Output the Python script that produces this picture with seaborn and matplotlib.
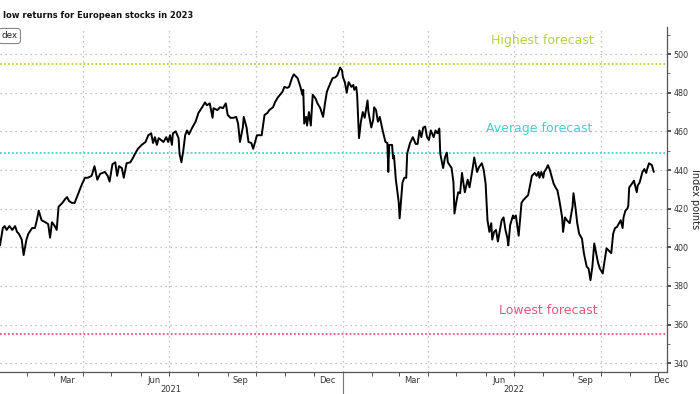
import numpy as np
import pandas as pd
import matplotlib
matplotlib.use("Agg")
import matplotlib.pyplot as plt
import matplotlib.dates as mdates
import matplotlib.transforms as mtransforms
from matplotlib.ticker import MultipleLocator, NullFormatter
import seaborn as sns

# ---------------- data ----------------
title_text = "low returns for European stocks in 2023"
legend_text = "dex"
y_label = "Index points"
start_date = "2021-01-01"

# days since 2021-01-01
days = [2,5,7,9,12,15,18,20,22,25,27,30,32,36,39,41,43,46,50,53,55,57,60,62,64,68,71,73,75,78,81,85,89,92,95,99,102,105,108,113,116,118,121,124,126,128,131,133,136,140,143,145,148,152,156,159,162,164,166,168,170,175,178,180,182,184,185,188,191,192,194,196,198,200,202,205,209,212,216,219,221,224,227,228,232,235,238,241,243,246,249,252,254,256,259,260,263,265,268,270,272,274,279,282,285,287,291,293,296,301,303,306,308,311,313,317,320,322,323,324,326,327,329,331,333,336,338,341,344,346,348,350,354,357,359,362,364,365,367,369,371,374,376,377,379,380,382,384,386,388,391,392,395,397,398,400,402,404,407,410,412,413,414,417,418,419,421,424,425,427,428,430,432,433,436,439,442,444,446,448,450,452,454,456,458,461,463,465,467,468,471,473,475,476,480,482,483,485,487,489,491,492,494,497,499,502,504,507,509,512,514,516,518,520,522,523,525,527,529,533,535,537,539,540,542,545,546,548,551,554,556,559,561,563,565,568,570,572,573,575,577,578,580,582,584,588,590,592,594,595,597,598,600,602,605,608,609,611,613,615,618,620,623,625,627,629,631,633,635,637,640,641,644,646,649,651,653,655,659,661,662,664,666,667,668,671,673,676,677,679,682,684,686,687,689,692,694]

index_points = [401,410,411,409,411,409,411,408,407,404,396,404,407,410,410,414,419,414,413,412,405,413,411,409,421,423,425,426,424,423,423,428,433,436,436,437,442,435,438,439,437,434,443,444,437,442,441,436,443.5,444,446.5,448.5,451,453,454.5,458,459,454,457,453,456.5,454.5,457,454.5,458,453,459,460,456.5,448.5,444,450,458,460.5,458.5,461.5,465,469.5,472.5,475,473.5,474.5,467,472,471,472.5,472,474.5,468.5,467,467,467.5,464,454.5,462,467.5,462,454.5,454,451,454.5,458,458,468.5,469.5,471,472.5,475,477.5,480.5,483,482.5,483,487.5,489.5,487.5,483,479,481.5,464,467.5,463,470,463,479,477,474.5,472,467.5,474.5,480.5,483,487.5,488,489,493,491.5,488,485.5,480,485.5,483,484,481.5,483,479,456.5,465,470,467,476,470,462,466,472.5,471,465,467.5,460.5,454.5,454,439,453,453,446,447.5,435,423.5,415,427,433.5,436,436,448.5,454,457,453.5,453.5,460.5,457,462,462.5,457,455.5,460.5,457,460.5,459,461.5,448.5,441,446.5,449,444,441,433.5,417.5,423.5,428.5,428,438.5,435,428.5,435,431,440,446.5,439,441.5,443.5,440,433,414,408,412.5,404,408,409,403,414,415.5,409,405,401,411.5,416.5,415,416.5,406,423,424.5,426,427,432,437,438.5,437,439,436,439,436,439,440.5,442.5,440,433,431,429.5,424.5,421.5,415.5,408,415.5,414,412.5,421,428,421,412.5,407,404.5,397,390,389,383,390,402,397,392,389,386.5,390,399.5,398.5,397,407,410,410.5,414,410,415.5,419,420,421.5,431,433,434.5,428.5,432,433.5,439,440.5,438.5,440.5,443.5,442.5,439]

forecast_names = ["Highest forecast", "Average forecast", "Lowest forecast"]
forecast_values = [495, 449, 355]
forecast_label_values = [507, 461.5, 367.5]
forecast_label_dates = ["2022-07-31", "2022-07-28", "2022-08-06"]
forecast_colors = ["#b4d147", "#4ccbd0", "#e5577c"]

y_ticks = [340, 360, 380, 400, 420, 440, 460, 480, 500]
month_labels = ["Mar", "Jun", "Sep", "Dec", "Mar", "Jun", "Sep", "Dec"]
month_label_dates = ["2021-03-15", "2021-06-15", "2021-09-15", "2021-12-15",
                     "2022-03-15", "2022-06-15", "2022-09-15", "2022-12-04"]
year_labels = ["2021", "2022"]
year_label_dates = ["2021-07-03", "2022-07-01"]

# ---------------- build ----------------
n = min(len(days), len(index_points))
dates = pd.Timestamp(start_date) + pd.to_timedelta(days[:n], unit="D")
df = pd.DataFrame({"date": dates, "value": index_points[:n]})

sns.set_theme(style="white")
plt.rcParams["font.family"] = ["DejaVu Sans"]

fig = plt.figure(figsize=(7.0, 3.94), dpi=100)
ax = fig.add_axes([0.0, 1 - 372 / 394, 667 / 700, (372 - 27) / 394])

xmin = pd.Timestamp(start_date) + pd.Timedelta(days=2)
xmax = pd.Timestamp(start_date) + pd.Timedelta(days=708)
ax.set_xlim(xmin, xmax)
ax.set_ylim(335.5, 514)

# grid
grid_kw = dict(color="#b0b0b0", linestyle=(0, (1, 3)), linewidth=0.9, zorder=0)
for v in y_ticks:
    ax.axhline(v, **grid_kw)
quarter_starts = pd.date_range("2021-04-01", "2022-10-01", freq="QS")
for d in quarter_starts:
    ax.axvline(d, **grid_kw)

# forecast lines
for name, val, lv, ld, col in zip(forecast_names, forecast_values, forecast_label_values,
                                  forecast_label_dates, forecast_colors):
    ax.axhline(val, color=col, linestyle=(0, (1, 1.2)), linewidth=1.3, zorder=1)
    ax.text(pd.Timestamp(ld), lv, name, color=col, fontsize=9,
            ha="center", va="center", zorder=2)

sns.lineplot(data=df, x="date", y="value", color="black", linewidth=1.4, ax=ax, zorder=3)
ax.set_xlabel("")
ax.set_ylabel("")

# spines
for s in ["top", "left"]:
    ax.spines[s].set_visible(False)
for s in ["right", "bottom"]:
    ax.spines[s].set_color("#555555")
    ax.spines[s].set_linewidth(0.9)

# y axis on right
ax.yaxis.tick_right()
ax.yaxis.set_label_position("right")
ax.set_yticks(y_ticks)
ax.set_yticklabels([str(v) for v in y_ticks], fontsize=5.8, color="#333333")
ax.yaxis.set_minor_locator(MultipleLocator(10))
ax.tick_params(axis="y", which="major", direction="out", length=3, width=1.2, color="#333333", pad=1.5, right=True, left=False)
ax.tick_params(axis="y", which="minor", direction="out", length=2, width=0.6, color="#555555", right=True, left=False)
ax.set_ylabel(y_label, rotation=270, fontsize=7, color="#222222", labelpad=1.5, va="bottom")

# x axis ticks
ax.set_xticks(quarter_starts)
ax.set_xticklabels([""] * len(quarter_starts))
ax.xaxis.set_minor_locator(mdates.MonthLocator())
ax.xaxis.set_minor_formatter(NullFormatter())
ax.tick_params(axis="x", which="both", direction="out", length=3, width=0.7, color="#555555", bottom=True)

trans = mtransforms.blended_transform_factory(ax.transData, ax.transAxes)
for lab, d in zip(month_labels, month_label_dates):
    ax.text(pd.Timestamp(d), -0.013, lab, transform=trans, ha="center", va="top",
            fontsize=6, color="#333333", clip_on=False)
for lab, d in zip(year_labels, year_label_dates):
    ax.text(pd.Timestamp(d), -0.05, lab, transform=trans, ha="center", va="center",
            fontsize=6, color="#333333", clip_on=False)
ax.plot([pd.Timestamp("2022-01-01")] * 2, [0, -0.07], transform=trans, color="#777777",
        linewidth=0.8, clip_on=False)

# title and legend chip
fig.text(0.004, 1 - 16 / 394, title_text, fontsize=6.0, fontweight="bold", color="#111111",
         ha="left", va="center")
fig.text(0.002, 1 - 36 / 394, legend_text, fontsize=6.3, color="#222222", ha="left", va="center",
         bbox=dict(boxstyle="round,pad=0.35", fc="white", ec="#888888", lw=0.8))

fig.savefig("out.png", dpi=100)
